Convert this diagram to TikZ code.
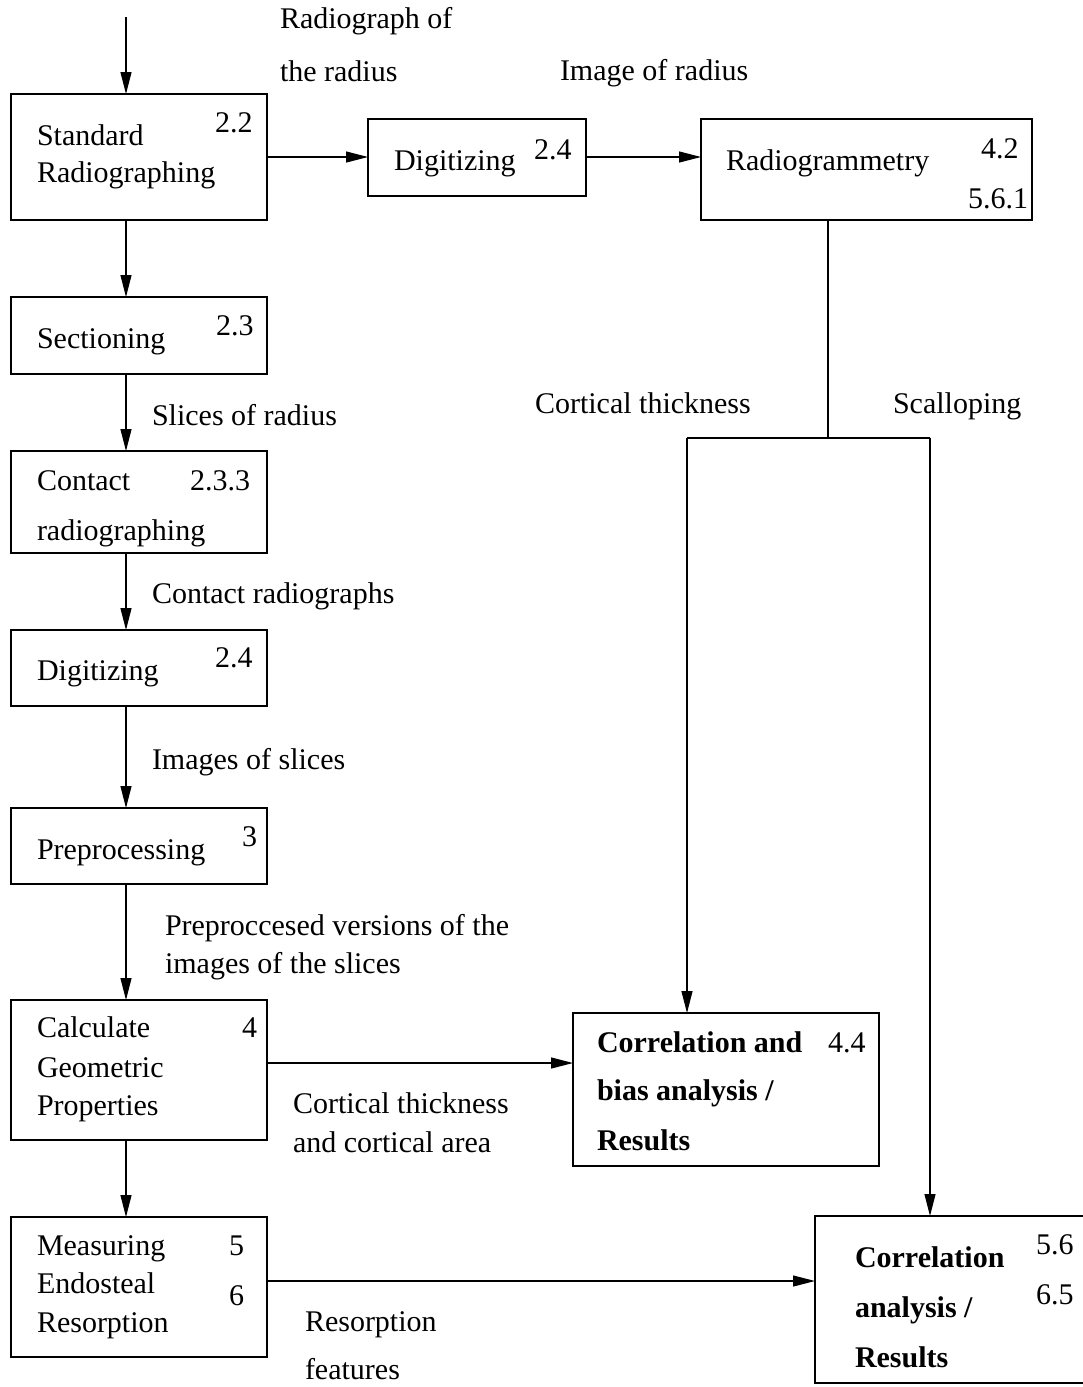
\documentclass[tikz,border=0pt]{standalone}
\usepackage{fontspec}
\setmainfont{Liberation Serif}
\usetikzlibrary{arrows.meta,calc}

% process box given by its corners (x1,y1) and (x2,y2)
\newcommand\procnode[5]{%
  \node[procbox, minimum width={#4-#2}, minimum height={#5-#3}]
    (#1) at ({(#2+#4)/2},{(#3+#5)/2}) {};}

\begin{document}
\begin{tikzpicture}[x=1pt,y=-1pt,
  every node/.style={font=\fontsize{30}{36}\selectfont},
  txt/.style={inner sep=0pt, outer sep=0pt, anchor=base west},
  bold/.style={txt, font=\fontsize{30}{36}\selectfont\bfseries},
  procbox/.style={draw, line width=1.2pt, inner sep=0pt, outer sep=0pt},
  flow/.style={line width=1.2pt, -{Triangle[length=22pt,width=11pt]}},
  plainline/.style={line width=1.2pt}]

\useasboundingbox (0,0) rectangle (1082,1387);

% ---------- boxes ----------
\procnode{std}{11}{94}{267}{220}
\procnode{digA}{368}{119}{586}{196}
\procnode{radio}{701}{119}{1032}{220}
\procnode{sect}{11}{297}{267}{374}
\procnode{contact}{11}{451}{267}{553}
\procnode{digB}{11}{630}{267}{706}
\procnode{prep}{11}{808}{267}{884}
\procnode{calc}{11}{1000}{267}{1140}
\procnode{meas}{11}{1217}{267}{1357}
\procnode{corrA}{573}{1013}{879}{1166}
\procnode{corrB}{815}{1216}{1092}{1383}

% ---------- box texts ----------
\node[txt] (stdA) at (37,145) {Standard};
\node[txt] (stdB) at (37,182) {Radiographing};
\node[txt] (stdN) at (215,132) {2.2};

\node[txt] (digAt) at (394,170) {Digitizing};
\node[txt] (digAn) at (534,159) {2.4};

\node[txt] (radioT) at (726,170) {Radiogrammetry};
\node[txt] (radioN) at (981,158) {4.2};
\node[txt] (radioM) at (968,208) {5.6.1};

\node[txt] (sectT) at (37,348) {Sectioning};
\node[txt] (sectN) at (216,335) {2.3};

\node[txt] (contA) at (37,490) {Contact};
\node[txt] (contB) at (37,540) {radiographing};
\node[txt] (contN) at (190,490) {2.3.3};

\node[txt] (digBt) at (37,680) {Digitizing};
\node[txt] (digBn) at (215,667) {2.4};

\node[txt] (prepT) at (37,859) {Preprocessing};
\node[txt] (prepN) at (242,846) {3};

\node[txt] (calcA) at (37,1037) {Calculate};
\node[txt] (calcB) at (37,1077) {Geometric};
\node[txt] (calcC) at (37,1115) {Properties};
\node[txt] (calcN) at (242,1037) {4};

\node[txt] (measA) at (37,1255) {Measuring};
\node[txt] (measB) at (37,1293) {Endosteal};
\node[txt] (measC) at (37,1332) {Resorption};
\node[txt] (measN) at (229,1255) {5};
\node[txt] (measM) at (229,1305) {6};

\node[bold] (corrAa) at (597,1052) {Correlation and};
\node[bold] (corrAb) at (597,1100) {bias analysis /};
\node[bold] (corrAc) at (597,1150) {Results};
\node[txt] (corrAn) at (828,1052) {4.4};

\node[bold] (corrBa) at (855,1267) {Correlation};
\node[bold] (corrBb) at (855,1317) {analysis /};
\node[bold] (corrBc) at (855,1367) {Results};
\node[txt] (corrBn) at (1036,1254) {5.6};
\node[txt] (corrBm) at (1036,1304) {6.5};

% ---------- connector labels ----------
\node[txt] (lblA) at (280,28) {Radiograph of};
\node[txt] (lblB) at (280,81) {the radius};
\node[txt] (lblC) at (560,80) {Image of radius};
\node[txt] (lblD) at (152,425) {Slices of radius};
\node[txt] (lblE) at (152,603) {Contact radiographs};
\node[txt] (lblF) at (152,769) {Images of slices};
\node[txt] (lblG) at (165,935) {Preproccesed versions of the};
\node[txt] (lblH) at (165,973) {images of the slices};
\node[txt] (lblI) at (293,1113) {Cortical thickness};
\node[txt] (lblJ) at (293,1152) {and cortical area};
\node[txt] (lblK) at (305,1331) {Resorption};
\node[txt] (lblL) at (305,1379) {features};
\node[txt] (lblM) at (535,413) {Cortical thickness};
\node[txt] (lblN) at (893,413) {Scalloping};

% ---------- connectors ----------
\coordinate (col) at (126,0);
\coordinate (entry) at (126,17);
\coordinate (split) at (828,438);
\coordinate (joinL) at (687,438);
\coordinate (joinR) at (930,438);

\draw[flow] (entry) -- (std.north -| col);
\draw[flow] (std.south -| col) -- (sect.north -| col);
\draw[flow] (sect.south -| col) -- (contact.north -| col);
\draw[flow] (contact.south -| col) -- (digB.north -| col);
\draw[flow] (digB.south -| col) -- (prep.north -| col);
\draw[flow] (prep.south -| col) -- (calc.north -| col);
\draw[flow] (calc.south -| col) -- (meas.north -| col);

\draw[flow] (std.east) -- (std.east -| digA.west);
\draw[flow] ([yshift=0.5pt]digA.east) -- ([yshift=0.5pt]digA.east -| radio.west);

\draw[plainline] (radio.south -| split) -- (split);
\draw[plainline] (joinL) -- (joinR);
\draw[flow] (joinL) -- (joinL |- corrA.north);
\draw[flow] (joinR) -- (joinR |- corrB.north);

\draw[flow] ([yshift=7pt]calc.east) -- ([yshift=7pt]calc.east -| corrA.west);
\draw[flow] ([yshift=6pt]meas.east) -- ([yshift=6pt]meas.east -| corrB.west);

\end{tikzpicture}
\end{document}
